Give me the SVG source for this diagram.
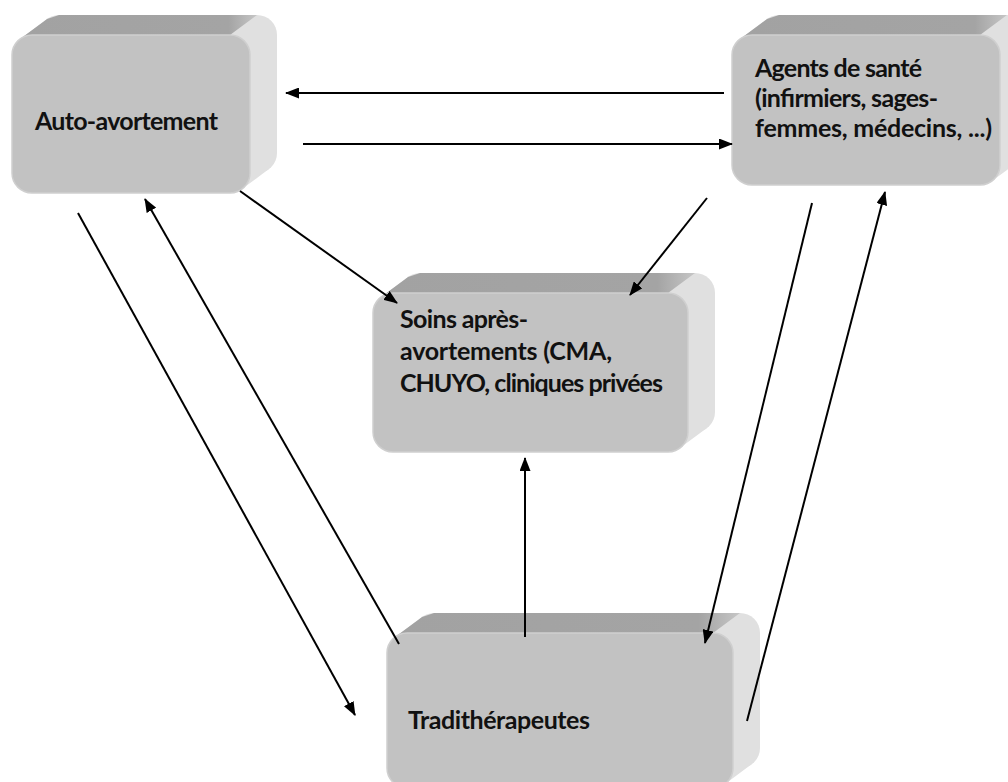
<svg xmlns="http://www.w3.org/2000/svg" width="1008" height="782" viewBox="0 0 1008 782">
<style>
.side{fill:#e0e0e0;}
.top{fill:url(#topg);}
.front{fill:#c2c2c2;stroke:#cfcfcf;stroke-width:1.5;}
.lbl{font-family:Lato,"Liberation Sans",sans-serif;font-weight:bold;font-size:25px;fill:#111;}
.conn line{stroke:#000;stroke-width:2;fill:none;marker-end:url(#ah);}
</style>
<defs>
<linearGradient id="topg" x1="0" y1="0" x2="1" y2="0">
<stop offset="0" stop-color="#a2a2a2"/>
<stop offset="0.88" stop-color="#a4a4a4"/>
<stop offset="1" stop-color="#c6c6c6"/>
</linearGradient>
<marker id="ah" markerUnits="userSpaceOnUse" markerWidth="14" markerHeight="11" refX="13" refY="5.5" orient="auto">
<path d="M0,0 L14,5.5 L0,11 z" fill="#000"/>
</marker>
</defs>
<rect width="1008" height="782" fill="#fff"/>

<g id="auto-avortement">
<rect class="side" x="39" y="15" width="238" height="158" rx="20"/>
<polygon class="side" points="20.1,38.9 47.1,18.9 268.9,169.1 241.9,189.1"/>
<polygon class="top" points="20.1,38.9 47.1,18.9 59,15 257,15 230,35 32,35"/>
<rect class="front" x="12" y="35" width="238" height="158" rx="20"/>
<text class="lbl" x="35" y="130" textLength="183" lengthAdjust="spacing">Auto-avortement</text>
</g>

<g id="agents-de-sante">
<rect class="side" x="759" y="15" width="268" height="150" rx="20"/>
<polygon class="side" points="740.1,38.9 767.1,18.9 1018.9,161.1 991.9,181.1"/>
<polygon class="top" points="740.1,38.9 767.1,18.9 779,15 1007,15 980,35 752,35"/>
<rect class="front" x="732" y="35" width="268" height="150" rx="20"/>
<text class="lbl" x="755" y="77" textLength="167" lengthAdjust="spacing">Agents de santé</text>
<text class="lbl" x="755" y="107" textLength="183" lengthAdjust="spacing">(infirmiers, sages-</text>
<text class="lbl" x="755" y="137" textLength="237" lengthAdjust="spacing">femmes, médecins, ...)</text>
</g>

<g id="soins-apres-avortements">
<rect class="side" x="400" y="273" width="315" height="159" rx="20"/>
<polygon class="side" points="381.1,296.9 408.1,276.9 706.9,428.1 679.9,448.1"/>
<polygon class="top" points="381.1,296.9 408.1,276.9 420,273 695,273 668,293 393,293"/>
<rect class="front" x="373" y="293" width="315" height="159" rx="20"/>
<text class="lbl" x="400" y="328" textLength="128" lengthAdjust="spacing">Soins après-</text>
<text class="lbl" x="400" y="360" textLength="212" lengthAdjust="spacing">avortements (CMA,</text>
<text class="lbl" x="400" y="392" textLength="263" lengthAdjust="spacing">CHUYO, cliniques privées</text>
</g>

<g id="traditherapeutes">
<rect class="side" x="414" y="613" width="346" height="155" rx="20"/>
<polygon class="side" points="395.1,636.9 422.1,616.9 751.9,764.1 724.9,784.1"/>
<polygon class="top" points="395.1,636.9 422.1,616.9 434,613 740,613 713,633 407,633"/>
<rect class="front" x="387" y="633" width="346" height="155" rx="20"/>
<text class="lbl" x="408" y="729" textLength="182" lengthAdjust="spacing">Tradithérapeutes</text>
</g>

<g id="connectors" class="conn">
<line x1="724" y1="93" x2="286" y2="93"/>
<line x1="303" y1="144" x2="732" y2="144"/>
<line x1="240" y1="191" x2="397" y2="303"/>
<line x1="707" y1="198" x2="630" y2="295"/>
<line x1="525" y1="637" x2="525" y2="458"/>
<line x1="399" y1="644" x2="145" y2="199"/>
<line x1="78" y1="213" x2="355" y2="715"/>
<line x1="812" y1="203" x2="705" y2="643"/>
<line x1="747" y1="721" x2="885" y2="192"/>
</g>
</svg>
